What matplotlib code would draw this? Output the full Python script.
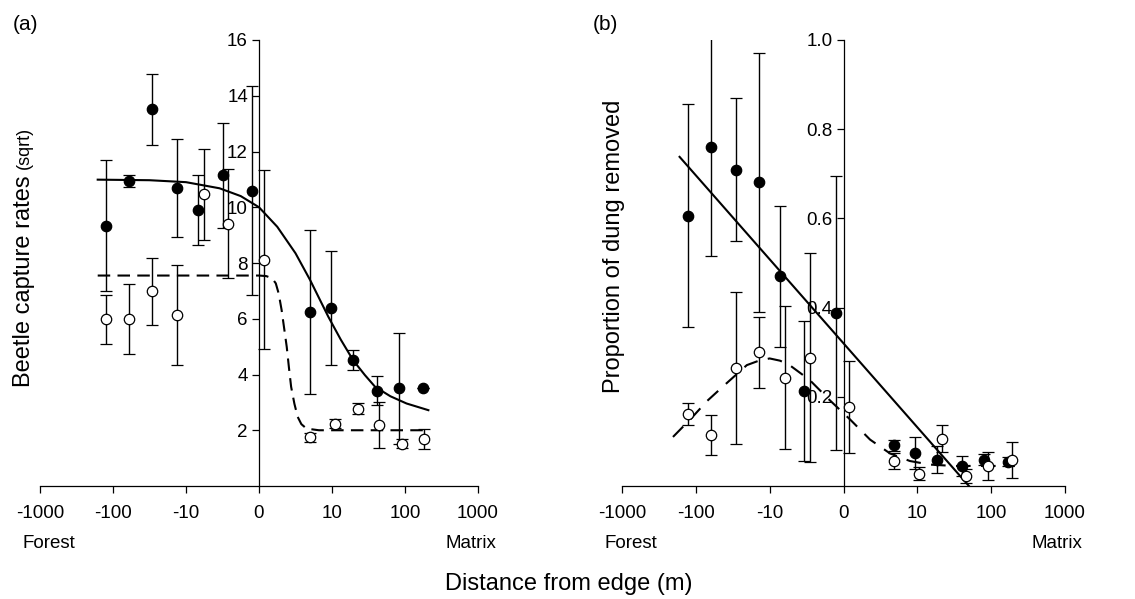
import numpy as np
import matplotlib
matplotlib.use('Agg')
import matplotlib.pyplot as plt

plt.rcParams['font.family'] = ['Liberation Sans', 'DejaVu Sans']

# ---- panel (a): beetle capture rates (sqrt) ----
a_fill_x = [-126, -60, -29, -13.2, -8.3, -5.0, -0.9, 7.0, 9.8, 19.5, 40.7, 83, 174]
a_fill_y = [9.34, 10.93, 13.52, 10.69, 9.89, 11.14, 10.59, 6.24, 6.39, 4.52, 3.42, 3.50, 3.50]
a_fill_e = [2.34, 0.22, 1.27, 1.77, 1.25, 1.9, 3.75, 2.93, 2.05, 0.35, 0.52, 2.0, 0.0]

a_open_x = [-126, -60, -29, -13.2, -7.6, -4.2, 0.7, 7.0, 11.0, 22.4, 44.7, 91, 182]
a_open_y = [5.98, 5.99, 6.98, 6.14, 10.47, 9.41, 8.12, 1.74, 2.24, 2.78, 2.19, 1.52, 1.68]
a_open_e = [0.87, 1.25, 1.2, 1.8, 1.63, 1.95, 3.2, 0.15, 0.15, 0.18, 0.82, 0.15, 0.35]

a_solid_x = [-162, -31.6, -10, -5.4, -2.5, 0, 2.5, 5, 7, 9.5, 13.2, 19.5, 28.2, 38.9, 63, 105, 209]
a_solid_y = [10.99, 10.97, 10.9, 10.68, 10.4, 10.0, 9.3, 8.35, 7.39, 6.07, 5.25, 4.51, 3.98, 3.56, 3.22, 2.96, 2.72]

a_dash_x = [-162, 0, 1.0, 1.8, 2.3, 2.7, 3.1, 3.45, 3.8, 4.1, 4.4, 4.85, 5.3, 5.8, 6.5, 8.2, 209]
a_dash_y = [7.55, 7.55, 7.53, 7.45, 7.27, 6.9, 6.31, 5.65, 4.99, 4.25, 3.56, 2.95, 2.48, 2.22, 2.06, 2.0, 2.0]

# ---- panel (b): proportion of dung removed ----
b_fill_x = [-129, -62, -29, -13.8, -8.6, -5.3, -1.0, 6.8, 9.7, 18.6, 39.8, 81, 170]
b_fill_y = [0.606, 0.760, 0.709, 0.681, 0.47, 0.214, 0.387, 0.091, 0.074, 0.059, 0.045, 0.059, 0.054]
b_fill_e = [0.25, 0.245, 0.16, 0.29, 0.158, 0.157, 0.307, 0.012, 0.035, 0.03, 0.022, 0.013, 0.01]

b_open_x = [-129, -62, -29, -13.8, -7.9, -4.6, 0.7, 6.8, 10.5, 21.9, 45.7, 91, 191]
b_open_y = [0.161, 0.114, 0.265, 0.30, 0.243, 0.288, 0.178, 0.056, 0.028, 0.106, 0.022, 0.045, 0.058]
b_open_e = [0.024, 0.045, 0.17, 0.08, 0.16, 0.235, 0.103, 0.018, 0.015, 0.03, 0.015, 0.032, 0.041]

b_solid_x = [-166, 50]
b_solid_y = [0.738, 0.0]

b_dash_x = [-204, -115, -71, -43, -20.4, -14, -10, -8.6, -7.3, -4.6, -1.9, 0.9, 3.6, 6.3, 9.0, 14.8, 31, 209]
b_dash_y = [0.110, 0.152, 0.19, 0.223, 0.271, 0.281, 0.286, 0.281, 0.271, 0.238, 0.193, 0.149, 0.104, 0.073, 0.056, 0.048, 0.045, 0.045]

xticks = [-1000, -100, -10, 0, 10, 100, 1000]
xticklabels = ['-1000', '-100', '-10', '0', '10', '100', '1000']

W, H = 1135, 599
fig = plt.figure(figsize=(W / 100, H / 100), dpi=100)

axa = fig.add_axes([40 / W, 1 - 486 / H, 438 / W, 446 / H])
axb = fig.add_axes([622 / W, 1 - 486 / H, 443 / W, 446 / H])


def style(ax, ymax, yticks, ylabels):
    ax.set_xscale('symlog', linthresh=10, linscale=0.9)
    ax.set_xlim(-1000, 1000)
    ax.set_ylim(0, ymax)
    ax.spines['top'].set_visible(False)
    ax.spines['right'].set_visible(False)
    ax.spines['left'].set_position(('data', 0))
    ax.spines['left'].set_linewidth(0.9)
    ax.spines['bottom'].set_linewidth(0.9)
    ax.set_xticks(xticks)
    ax.set_xticklabels(xticklabels)
    ax.xaxis.set_minor_locator(matplotlib.ticker.NullLocator())
    ax.set_yticks(yticks)
    ax.set_yticklabels(ylabels)
    ax.tick_params(direction='out', length=5, width=0.9, labelsize=13.5)
    ax.tick_params(axis='y', pad=3)
    ax.tick_params(axis='x', pad=9)
    ax.patch.set_alpha(0)


def draw(ax, fx, fy, fe, ox, oy, oe, sx, sy, dx, dy, dash):
    kw = dict(fmt='o', color='black', ms=7.5, capsize=4.0, elinewidth=1.0,
              capthick=1.0, mec='black', mew=0.9)
    ax.errorbar(fx, fy, yerr=fe, mfc='black', zorder=3, **kw)
    ax.errorbar(ox, oy, yerr=oe, mfc='white', zorder=4, **kw)
    ax.plot(sx, sy, '-', color='black', lw=1.5, zorder=2)
    ax.plot(dx, dy, color='black', lw=1.5, linestyle=dash, zorder=2)


draw(axa, a_fill_x, a_fill_y, a_fill_e, a_open_x, a_open_y, a_open_e,
     a_solid_x, a_solid_y, a_dash_x, a_dash_y, (0, (6, 3.5)))
style(axa, 16, [2, 4, 6, 8, 10, 12, 14, 16], ['2', '4', '6', '8', '10', '12', '14', '16'])

draw(axb, b_fill_x, b_fill_y, b_fill_e, b_open_x, b_open_y, b_open_e,
     b_solid_x, b_solid_y, b_dash_x, b_dash_y, (0, (7, 5)))
style(axb, 1.0, [0.2, 0.4, 0.6, 0.8, 1.0], ['0.2', '0.4', '0.6', '0.8', '1.0'])

fs_small = 13.5
fig.text(25 / W, 1 - 24 / H, '(a)', fontsize=15, ha='center', va='center')
fig.text(605 / W, 1 - 24 / H, '(b)', fontsize=15, ha='center', va='center')

for left, right in [(23, 496), (605, 1082)]:
    fig.text(left / W, 1 - 544 / H, 'Forest', fontsize=fs_small, ha='left', va='center')
    fig.text(right / W, 1 - 544 / H, 'Matrix', fontsize=fs_small, ha='right', va='center')

fig.text(569 / W, 1 - 584 / H, 'Distance from edge (m)', fontsize=17, ha='center', va='center')

t1 = fig.text(24 / W, 1 - 387 / H, 'Beetle capture rates', fontsize=17, rotation=90,
              rotation_mode='anchor', ha='left', va='center')
fig.canvas.draw()
bb = t1.get_window_extent()
fig.text(24 / W, (bb.y1 + 6) / H, '(sqrt)', fontsize=13, rotation=90,
         rotation_mode='anchor', ha='left', va='center')

fig.text(614 / W, 1 - 246 / H, 'Proportion of dung removed', fontsize=17, rotation=90,
         ha='center', va='center')

fig.savefig('out.png', dpi=100)
